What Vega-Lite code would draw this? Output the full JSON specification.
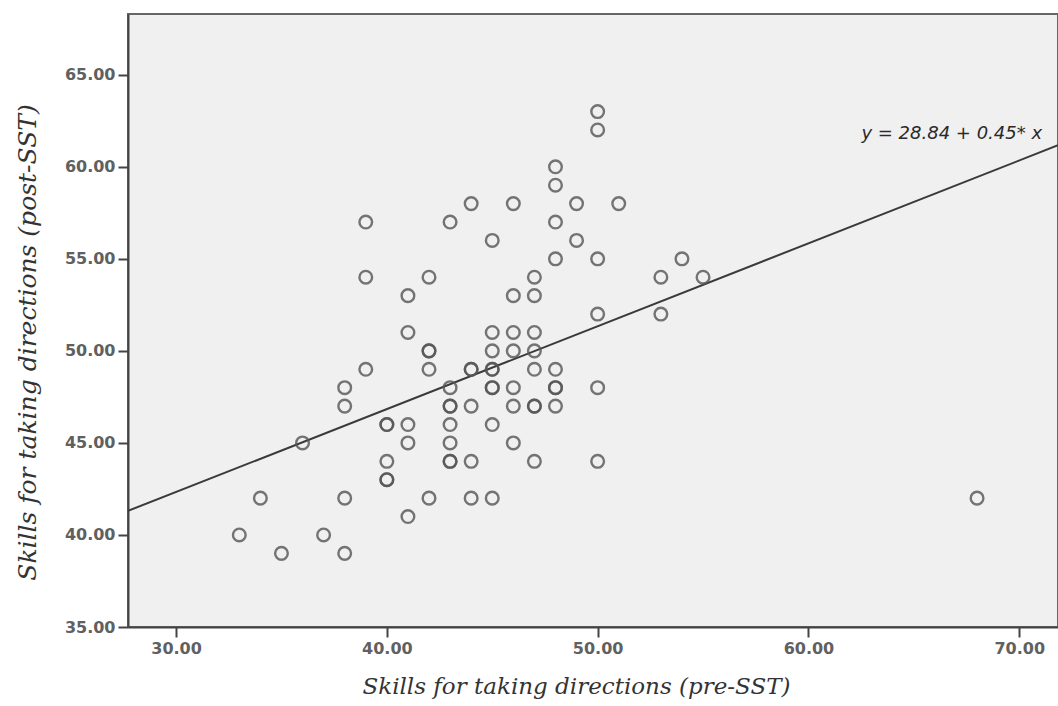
{
  "$schema": "https://vega.github.io/schema/vega-lite/v6.json",
  "autosize": {"type": "none"},
  "width": 930,
  "height": 613,
  "padding": {"left": 128, "top": 14, "right": 0, "bottom": 79},
  "background": "#ffffff",
  "config": {
    "view": {"fill": "#f0f0f0", "stroke": "#666666", "strokeWidth": 2},
    "axis": {
      "grid": false,
      "domainColor": "#444444",
      "domainWidth": 2,
      "tickColor": "#444444",
      "tickWidth": 2,
      "tickSize": 10,
      "labelFont": "DejaVu Sans",
      "labelFontSize": 16,
      "labelFontWeight": "bold",
      "labelColor": "#606060",
      "labelPadding": 3,
      "titleFont": "DejaVu Serif",
      "titleFontStyle": "italic",
      "titleFontWeight": "normal",
      "titleColor": "#333333"
    }
  },
  "datasets": {
    "points": [
      {"pre": 33, "post": 40}, {"pre": 34, "post": 42}, {"pre": 35, "post": 39}, {"pre": 36, "post": 45},
      {"pre": 37, "post": 40}, {"pre": 38, "post": 39}, {"pre": 38, "post": 42}, {"pre": 38, "post": 47},
      {"pre": 38, "post": 48}, {"pre": 39, "post": 57}, {"pre": 39, "post": 54}, {"pre": 39, "post": 49},
      {"pre": 40, "post": 46}, {"pre": 40, "post": 46}, {"pre": 40, "post": 44}, {"pre": 40, "post": 43},
      {"pre": 40, "post": 43}, {"pre": 41, "post": 53}, {"pre": 41, "post": 51}, {"pre": 41, "post": 46},
      {"pre": 41, "post": 45}, {"pre": 41, "post": 41}, {"pre": 42, "post": 54}, {"pre": 42, "post": 50},
      {"pre": 42, "post": 50}, {"pre": 42, "post": 49}, {"pre": 42, "post": 42}, {"pre": 43, "post": 57},
      {"pre": 43, "post": 48}, {"pre": 43, "post": 47}, {"pre": 43, "post": 47}, {"pre": 43, "post": 46},
      {"pre": 43, "post": 45}, {"pre": 43, "post": 44}, {"pre": 43, "post": 44}, {"pre": 44, "post": 58},
      {"pre": 44, "post": 49}, {"pre": 44, "post": 49}, {"pre": 44, "post": 47}, {"pre": 44, "post": 44},
      {"pre": 44, "post": 42}, {"pre": 45, "post": 56}, {"pre": 45, "post": 51}, {"pre": 45, "post": 50},
      {"pre": 45, "post": 49}, {"pre": 45, "post": 49}, {"pre": 45, "post": 48}, {"pre": 45, "post": 48},
      {"pre": 45, "post": 46}, {"pre": 45, "post": 42}, {"pre": 46, "post": 58}, {"pre": 46, "post": 53},
      {"pre": 46, "post": 51}, {"pre": 46, "post": 50}, {"pre": 46, "post": 48}, {"pre": 46, "post": 47},
      {"pre": 46, "post": 45}, {"pre": 47, "post": 54}, {"pre": 47, "post": 53}, {"pre": 47, "post": 51},
      {"pre": 47, "post": 50}, {"pre": 47, "post": 49}, {"pre": 47, "post": 47}, {"pre": 47, "post": 47},
      {"pre": 47, "post": 44}, {"pre": 48, "post": 60}, {"pre": 48, "post": 59}, {"pre": 48, "post": 57},
      {"pre": 48, "post": 55}, {"pre": 48, "post": 49}, {"pre": 48, "post": 48}, {"pre": 48, "post": 48},
      {"pre": 48, "post": 47}, {"pre": 49, "post": 58}, {"pre": 49, "post": 56}, {"pre": 50, "post": 63},
      {"pre": 50, "post": 62}, {"pre": 50, "post": 55}, {"pre": 50, "post": 52}, {"pre": 50, "post": 48},
      {"pre": 50, "post": 44}, {"pre": 51, "post": 58}, {"pre": 53, "post": 54}, {"pre": 53, "post": 52},
      {"pre": 54, "post": 55}, {"pre": 55, "post": 54}, {"pre": 68, "post": 42}
    ],
    "fit": [
      {"pre": 27.72, "post": 41.31},
      {"pre": 71.84, "post": 61.17}
    ],
    "label": [
      {"pre": 66.8, "post": 61.8, "text": "y = 28.84 + 0.45* x"}
    ]
  },
  "layer": [
    {
      "data": {"name": "fit"},
      "mark": {"type": "line", "color": "#3a3a3a", "strokeWidth": 2, "clip": true},
      "encoding": {
        "x": {
          "field": "pre", "type": "quantitative",
          "scale": {"domain": [27.72, 71.84], "nice": false, "zero": false},
          "axis": {
            "values": [30, 40, 50, 60, 70],
            "format": ".2f",
            "title": "Skills for taking directions (pre-SST)",
            "titleFontSize": 23,
            "titlePadding": 19,
            "titleX": 448
          }
        },
        "y": {
          "field": "post", "type": "quantitative",
          "scale": {"domain": [35, 68.3], "nice": false, "zero": false},
          "axis": {
            "values": [35, 40, 45, 50, 55, 60, 65],
            "format": ".2f",
            "title": "Skills for taking directions (post-SST)",
            "titleFontSize": 25,
            "titlePadding": 24,
            "titleY": 328
          }
        }
      }
    },
    {
      "data": {"name": "points"},
      "mark": {"type": "point", "shape": "circle", "filled": false, "size": 160, "strokeWidth": 2.4, "color": "#555555", "opacity": 0.8},
      "encoding": {
        "x": {"field": "pre", "type": "quantitative"},
        "y": {"field": "post", "type": "quantitative"}
      }
    },
    {
      "data": {"name": "label"},
      "mark": {"type": "text", "font": "DejaVu Sans", "fontStyle": "italic", "fontSize": 18, "color": "#2a2a2a", "align": "center", "baseline": "middle"},
      "encoding": {
        "x": {"field": "pre", "type": "quantitative"},
        "y": {"field": "post", "type": "quantitative"},
        "text": {"field": "text"}
      }
    }
  ]
}
